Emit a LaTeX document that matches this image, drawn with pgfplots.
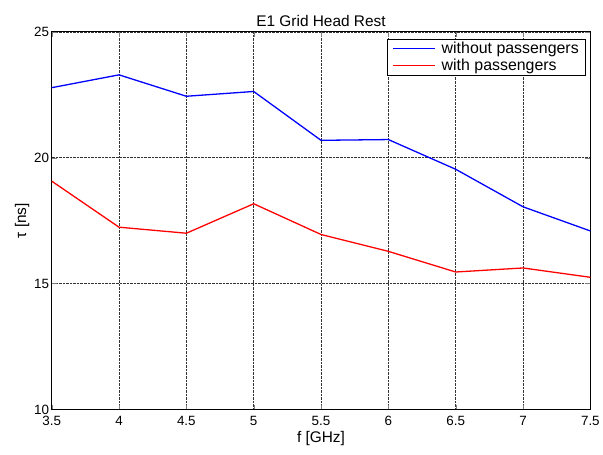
\documentclass[border=0pt]{standalone}
\usepackage{pgfplots}
\pgfplotsset{compat=1.18}
\usepackage{fontspec}
\setmainfont{Liberation Sans}
\begin{document}
\begin{tikzpicture}
\begin{axis}[
scale only axis,width=542pt,height=380pt,
xmin=3.5,xmax=7.5,ymin=10,ymax=25,
xtick={3.5,4,...,7.5},ytick={10,15,20,25},
xticklabels={3.5,4,4.5,5,5.5,6,6.5,7,7.5},
/pgf/number format/assume math mode=true,
tick label style={font=\fontsize{13.5}{14}\selectfont},
xticklabel style={yshift=-3pt},
yticklabel style={xshift=1pt},
label style={font=\fontsize{15.5}{17}\selectfont},
title style={font=\fontsize{15.5}{17}\selectfont,yshift=-4pt},
title={E1 Grid Head Rest},
xlabel={f [GHz]},ylabel={τ [ns]},
xlabel style={yshift=1pt},ylabel style={yshift=-2pt},
tick align=inside,major tick length=5pt,
grid=major,grid style={black!80,densely dotted,line width=0.6pt},
axis line style={black,line width=0.7pt},
legend style={font=\fontsize{16}{20}\selectfont,at={(axis description cs:0.992,0.982)},anchor=north east,draw=black,line width=0.7pt,inner xsep=5pt,inner ysep=1pt},
legend cell align=left,
legend image code/.code={\draw[#1] (0pt,0pt) -- (42pt,0pt);},
]
\addplot[blue,line width=1.3pt] coordinates {(3.5,22.78) (4,23.29) (4.5,22.44) (5,22.63) (5.5,20.69) (6,20.72) (6.5,19.54) (7,18.05) (7.5,17.09)};
\addlegendentry{\hspace{4pt}without passengers}
\addplot[red,line width=1.3pt] coordinates {(3.5,19.07) (4,17.24) (4.5,17.00) (5,18.17) (5.5,16.95) (6,16.28) (6.5,15.46) (7,15.62) (7.5,15.25)};
\addlegendentry{\hspace{4pt}with passengers}
\end{axis}
\path ([xshift=-52pt,yshift=-45pt]current axis.south west) rectangle ([xshift=9pt,yshift=32pt]current axis.north east);
\end{tikzpicture}
\end{document}
